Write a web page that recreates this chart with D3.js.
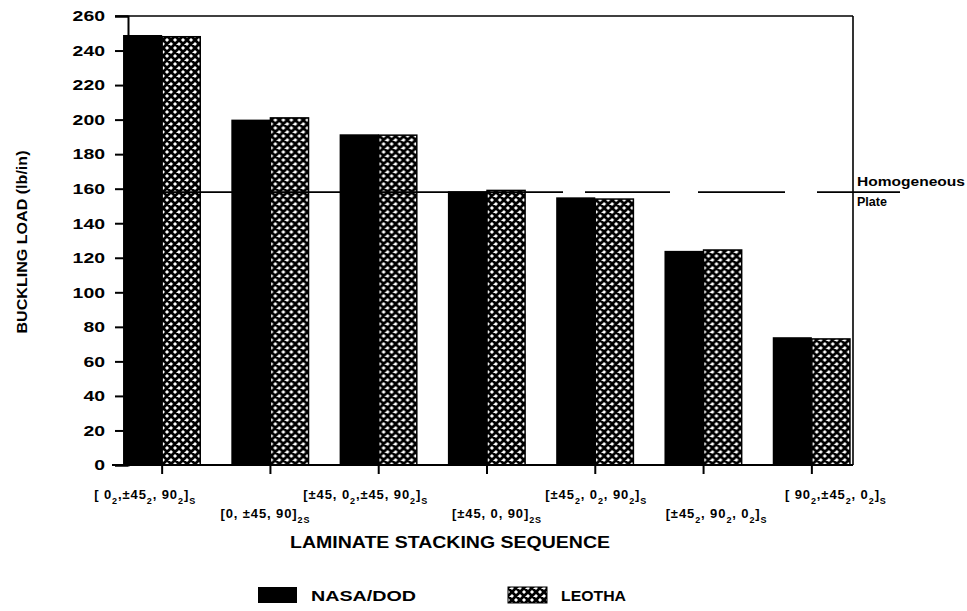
<!DOCTYPE html>
<html><head><meta charset="utf-8">
<script src="https://cdn.jsdelivr.net/npm/d3@7"></script>
<style>
html,body{margin:0;padding:0;background:#fff;}
svg{display:block;}
text{font-family:"Liberation Sans",Arial,sans-serif;font-weight:bold;fill:#000;}
</style></head>
<body>
<svg id="chart" width="967" height="611"></svg>
<script>
// ---- data ----
const categories = [
  "[ 0_{2},±45_{2}, 90_{2}]_{S}",
  "[0, ±45, 90]_{2S}",
  "[±45, 0_{2},±45, 90_{2}]_{S}",
  "[±45, 0, 90]_{2S}",
  "[±45_{2}, 0_{2}, 90_{2}]_{S}",
  "[±45_{2}, 90_{2}, 0_{2}]_{S}",
  "[ 90_{2},±45_{2}, 0_{2}]_{S}"
];
const seriesNames = ["NASA/DOD", "LEOTHA"];
const nasaDod = [249, 200, 191.5, 158.5, 155, 124, 74];
const leotha  = [248, 201, 191, 159, 154, 124.5, 73];
const yTicks = [0,20,40,60,80,100,120,140,160,180,200,220,240,260];
const homogeneousPlate = 158;

(function () {
// ---- layout ----
const svg = d3.select("#chart");
const pLeft = 128, pRight = 853, pTop = 16, pBottom = 465;
const y = d3.scaleLinear().domain([0, 260]).range([pBottom, pTop]);
const x0 = d3.scaleBand().domain(d3.range(categories.length)).range([108, 866])
  .paddingInner(0.2778).paddingOuter(0.1389);
const x1 = d3.scaleBand().domain([0, 1]).range([0, x0.bandwidth()]).padding(0);

// hatch pattern
const defs = svg.append("defs");
const pat = defs.append("pattern").attr("id", "hatch").attr("patternUnits", "userSpaceOnUse")
  .attr("width", 8).attr("height", 8);
pat.append("rect").attr("width", 8).attr("height", 8).attr("fill", "#fff");
pat.append("path")
  .attr("d", "M0,0L8,8M8,0L0,8M-2,2L2,-2M6,10L10,6M-2,6L2,10M6,-2L10,2")
  .attr("stroke", "#000").attr("stroke-width", 2.8);

// frame: top and right border
svg.append("line").attr("x1", 115).attr("x2", pRight).attr("y1", pTop).attr("y2", pTop)
  .attr("stroke", "#000").attr("stroke-width", 1.6);
svg.append("line").attr("x1", pRight).attr("x2", pRight).attr("y1", pTop).attr("y2", pBottom)
  .attr("stroke", "#000").attr("stroke-width", 1.6);

// y axis
const yAxis = d3.axisLeft(y).tickValues(yTicks).tickSize(13).tickPadding(10);
const gy = svg.append("g").attr("transform", `translate(${pLeft},0)`).call(yAxis);
gy.select(".domain").attr("stroke-width", 2);
gy.selectAll(".tick line").attr("stroke-width", 2);
gy.selectAll(".tick text").attr("font-size", 15).attr("font-family", "'Liberation Sans',Arial,sans-serif")
  .attr("font-weight", "bold")
  .attr("textLength", d => String(d).length * 10.8).attr("lengthAdjust", "spacingAndGlyphs");

// bars
const groups = svg.append("g").selectAll("g").data(categories).join("g")
  .attr("transform", (d, i) => `translate(${x0(i)},0)`);
groups.append("rect")
  .attr("x", x1(0)).attr("width", x1.bandwidth())
  .attr("y", (d, i) => y(nasaDod[i])).attr("height", (d, i) => pBottom - y(nasaDod[i]))
  .attr("fill", "#000");
groups.append("rect")
  .attr("x", x1(1)).attr("width", x1.bandwidth() - 1)
  .attr("y", (d, i) => y(leotha[i])).attr("height", (d, i) => pBottom - y(leotha[i]))
  .attr("fill", "url(#hatch)").attr("stroke", "#000").attr("stroke-width", 1.5);

// x axis
const xAxisLine = svg.append("g");
xAxisLine.append("line").attr("x1", 112).attr("x2", pRight).attr("y1", pBottom).attr("y2", pBottom)
  .attr("stroke", "#000").attr("stroke-width", 2);
xAxisLine.selectAll("line.tk").data(categories).join("line").attr("class", "tk")
  .attr("x1", (d, i) => x0(i) + x1(1)).attr("x2", (d, i) => x0(i) + x1(1))
  .attr("y1", pBottom).attr("y2", pBottom + 9).attr("stroke", "#000").attr("stroke-width", 2);

// x labels with subscripts
const labelNudge = [-17, -5, -13, 10, 1, 13, 24];
function addLabel(g, str) {
  const parts = str.split(/(_\{[^}]*\})/).filter(s => s.length);
  let sub = false;
  parts.forEach(p => {
    if (p.startsWith("_{")) {
      g.append("tspan").text(p.slice(2, -1)).attr("font-size", 9).attr("dy", 5);
      sub = true;
    } else {
      g.append("tspan").text(p).attr("font-size", 13).attr("dy", sub ? -5 : 0);
      sub = false;
    }
  });
}
categories.forEach((c, i) => {
  const t = svg.append("text")
    .attr("x", x0(i) + x1(1) + labelNudge[i])
    .attr("y", i % 2 === 0 ? 499 : 518)
    .attr("text-anchor", "middle")
    .attr("letter-spacing", 0.9);
  addLabel(t, c);
});

// homogeneous plate line
const yh = y(homogeneousPlate);
svg.append("line").attr("x1", pLeft).attr("x2", 900)
  .attr("y1", yh).attr("y2", yh)
  .attr("stroke", "#000").attr("stroke-width", 1.6)
  .attr("stroke-dasharray", "435,22,85,28,87,32,90");
svg.append("text").attr("x", 857).attr("y", yh - 6).attr("font-size", 13)
  .attr("textLength", 108).attr("lengthAdjust", "spacingAndGlyphs").text("Homogeneous");
svg.append("text").attr("x", 857).attr("y", yh + 14).attr("font-size", 13)
  .attr("textLength", 30).attr("lengthAdjust", "spacingAndGlyphs").text("Plate");

// axis titles
svg.append("text").attr("transform", "translate(27,242) rotate(-90)").attr("text-anchor", "middle")
  .attr("font-size", 14).attr("textLength", 183).attr("lengthAdjust", "spacingAndGlyphs")
  .text("BUCKLING LOAD (lb/in)");
svg.append("text").attr("x", 450).attr("y", 548).attr("text-anchor", "middle")
  .attr("font-size", 17).attr("textLength", 320).attr("lengthAdjust", "spacingAndGlyphs")
  .text("LAMINATE STACKING SEQUENCE");

// legend
const legendX = [258, 508];
const legendTextW = [105, 65];
seriesNames.forEach((n, i) => {
  svg.append("rect").attr("x", legendX[i]).attr("y", 587).attr("width", 39).attr("height", 16)
    .attr("fill", i === 0 ? "#000" : "url(#hatch)")
    .attr("stroke", i === 0 ? "none" : "#000").attr("stroke-width", 1);
  svg.append("text").attr("x", legendX[i] + 53).attr("y", 601).attr("font-size", 15)
    .attr("textLength", legendTextW[i]).attr("lengthAdjust", "spacingAndGlyphs").text(n);
});
})();
</script>
</body></html>
